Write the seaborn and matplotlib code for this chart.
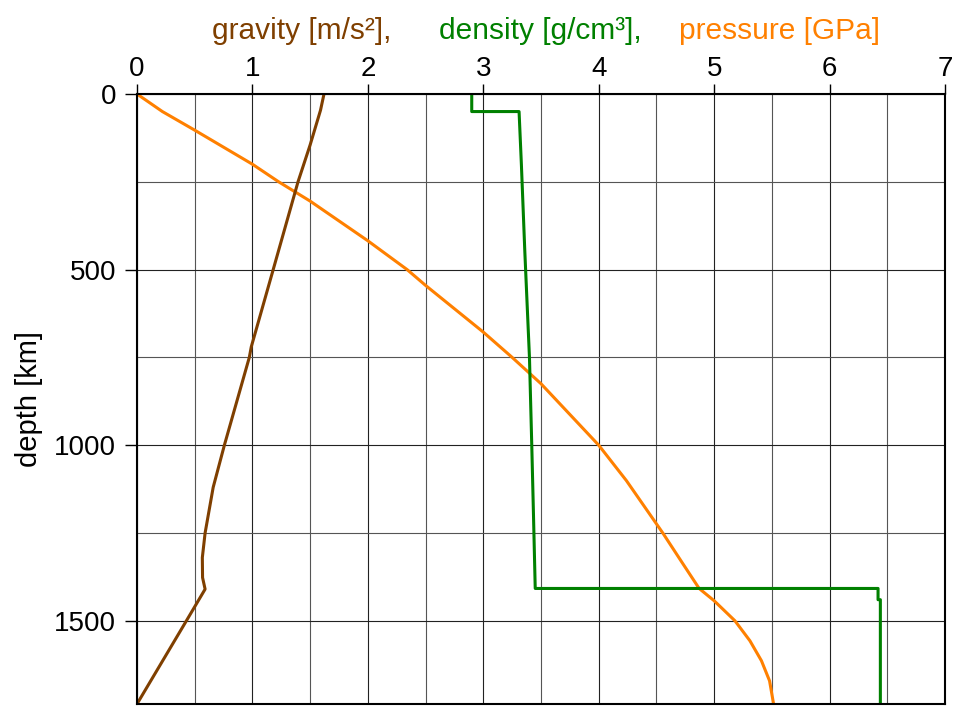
import matplotlib
matplotlib.use("Agg")
import matplotlib.pyplot as plt
import seaborn as sns
import pandas as pd
from matplotlib.ticker import MultipleLocator

# ---- data ----
gravity_depth = [0, 46, 145, 250, 500, 720, 750, 1000, 1120, 1250, 1320, 1377, 1410, 1500, 1737]
gravity_value = [1.62, 1.59, 1.50, 1.395, 1.18, 0.99, 0.973, 0.757, 0.66, 0.59, 0.566, 0.568, 0.59, 0.428, 0.0]

density_depth = [0, 50, 50, 200, 450, 750, 1000, 1200, 1408, 1408, 1440, 1440, 1737]
density_value = [2.90, 2.90, 3.31, 3.33, 3.36, 3.40, 3.42, 3.435, 3.45, 6.42, 6.42, 6.44, 6.44]

pressure_depth = [0, 50, 103, 200, 250, 305, 418, 500, 545, 678, 750, 825, 1000, 1101, 1224,
                  1250, 1338, 1408, 1443, 1500, 1557, 1614, 1671, 1737]
pressure_value = [0.0, 0.22, 0.5, 1.0, 1.227, 1.5, 2.0, 2.34, 2.5, 3.0, 3.25, 3.5, 4.0, 4.24, 4.5,
                  4.555, 4.73, 4.87, 5.0, 5.18, 5.31, 5.41, 5.48, 5.515]

x_ticks = [0, 1, 2, 3, 4, 5, 6, 7]
y_ticks = [0, 500, 1000, 1500]
moon_radius = 1737

c_grav = "#7f3f00"
c_dens = "#008000"
c_pres = "#ff8000"

sns.set_theme(style="white")
plt.rcParams["font.family"] = ["Liberation Sans", "DejaVu Sans"]

fig = plt.figure(figsize=(9.56, 7.11), dpi=100)
ax = fig.add_axes([137/956, 1 - 704/711, (945 - 137)/956, (704 - 94)/711])

dg = pd.DataFrame({"depth": gravity_depth, "v": gravity_value})
dd = pd.DataFrame({"depth": density_depth, "v": density_value})
dp = pd.DataFrame({"depth": pressure_depth, "v": pressure_value})

sns.lineplot(data=dp, x="v", y="depth", sort=False, estimator=None, color=c_pres, lw=2.2, ax=ax)
sns.lineplot(data=dd, x="v", y="depth", sort=False, estimator=None, color=c_dens, lw=2.2, ax=ax)
sns.lineplot(data=dg, x="v", y="depth", sort=False, estimator=None, color=c_grav, lw=2.2, ax=ax)

ax.set_xlim(0, 7)
ax.set_ylim(moon_radius, 0)
ax.set_xticks(x_ticks)
ax.set_yticks(y_ticks)
ax.xaxis.set_minor_locator(MultipleLocator(0.5))
ax.yaxis.set_minor_locator(MultipleLocator(250))
ax.xaxis.tick_top()
ax.tick_params(axis="x", which="major", direction="out", length=7, width=1, labelsize=20,
               top=True, bottom=False, pad=2, colors="black")
ax.tick_params(axis="y", which="major", direction="out", length=9, width=1, labelsize=20,
               left=True, pad=6, colors="black")
ax.tick_params(which="minor", length=0)
ax.grid(True, which="major", color="#222222", lw=0.8)
ax.grid(True, which="minor", color="#555555", lw=0.8)
ax.set_axisbelow(True)
for s in ax.spines.values():
    s.set_color("black")
    s.set_linewidth(1.5)
ax.set_xlabel("")
ax.set_ylabel("depth [km]", fontsize=21, color="black", labelpad=8)

fig.text(212/956, 1 - 31/711, "gravity [m/s²],", color=c_grav, fontsize=21.5, ha="left", va="center")
fig.text(439/956, 1 - 31/711, "density [g/cm³],", color=c_dens, fontsize=21.5, ha="left", va="center")
fig.text(679/956, 1 - 31/711, "pressure [GPa]", color=c_pres, fontsize=21.5, ha="left", va="center")

fig.savefig("out.png", dpi=100)
